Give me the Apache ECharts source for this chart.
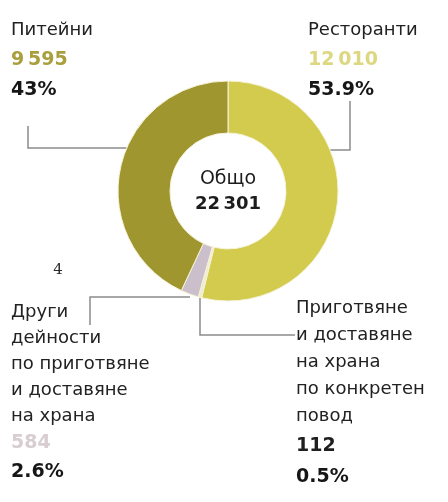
<!DOCTYPE html>
<html>
<head>
<meta charset="utf-8">
<script src="https://cdn.jsdelivr.net/npm/echarts@6/dist/echarts.min.js"></script>
<style>
  html, body { margin: 0; padding: 0; background: #ffffff; }
  #chart { width: 448px; height: 502px; }
</style>
</head>
<body>
<div id="chart"></div>
<script>
// Food service activities: number of units and share of total
const categories = [
  'Ресторанти',
  'Приготвяне\nи доставяне\nна храна\nпо конкретен\nповод',
  'Други\nдейности\nпо приготвяне\nи доставяне\nна храна',
  'Питейни'
];
const values = [12010, 112, 584, 9595];
const shareLabels = ['53.9%', '0.5%', '2.6%', '43%'];
const sliceColors = ['#d2cb4e', '#efecd2', '#cbbfcb', '#a0962f'];
const valueColors = ['#ddd781', '#1f1f1f', '#d8cdd1', '#a99f3c'];
const centerTitle = 'Общо';

const total = values.reduce((a, b) => a + b, 0);
const fmt = v => String(v).replace(/\B(?=(\d{3})+(?!\d))/g, '\u2009');

// donut geometry
const CX = 228, CY = 191, R = 110, R_IN = 58;
const FONT = '"DejaVu Sans", "Noto Sans", sans-serif';

// point on the outer rim at a given height, on the left or right side
const rimAtY = (y, side) => [CX + side * Math.sqrt(R * R - (CY - y) * (CY - y)), y];

// label placement and leader routes, per slice
const placement = [
  { x: 308, y: 15, line: [rimAtY(150, 1), [350, 150], [350, 101]] },
  { x: 296, y: 295, line: [[200, 298], [200, 335], [295, 335]] },
  { x: 11, y: 299, line: [[190, 297], [90, 297], [90, 325]] },
  { x: 11, y: 15, line: [rimAtY(148, -1), [28, 148], [28, 126]] }
];
const nameLH = [30, 27, 26, 30];
const valLH = [30, 32, 29, 30];
const pctLH = [30, 30, 29, 30];

const data = values.map((v, i) => ({
  name: categories[i],
  value: v,
  itemStyle: { color: sliceColors[i] },
  label: {
    formatter: () => `{n|${categories[i]}}\n{v|${fmt(v)}}\n{p|${shareLabels[i]}}`,
    rich: {
      n: { fontFamily: FONT, fontSize: 18, color: '#222222', lineHeight: nameLH[i] },
      v: { fontFamily: FONT, fontSize: 19, fontWeight: 'bold', color: valueColors[i], lineHeight: valLH[i] },
      p: { fontFamily: FONT, fontSize: 19, fontWeight: 'bold', color: '#161616', lineHeight: pctLH[i] }
    }
  }
}));

const chart = echarts.init(document.getElementById('chart'), null, { renderer: 'canvas' });
chart.setOption({
  backgroundColor: '#ffffff',
  animation: false,
  series: [{
    type: 'pie',
    center: [CX, CY],
    radius: [R_IN, R],
    startAngle: 90,
    clockwise: true,
    avoidLabelOverlap: false,
    itemStyle: { borderColor: '#f6f3d8', borderWidth: 1 },
    label: { show: true, position: 'outside', align: 'left' },
    labelLine: { show: true, lineStyle: { color: '#8c8c8c', width: 1.5 } },
    labelLayout: params => {
      const p = placement[params.dataIndex];
      return { x: p.x, y: p.y, align: 'left', verticalAlign: 'top', labelLinePoints: p.line };
    },
    emphasis: { disabled: true },
    data: data
  }],
  graphic: [
    {
      type: 'text', x: CX, y: CY - 12, z: 10,
      style: { text: centerTitle, align: 'center', verticalAlign: 'middle', fill: '#1c1c1c',
               font: '19px ' + FONT }
    },
    {
      type: 'text', x: CX, y: CY + 13, z: 10,
      style: { text: fmt(total), align: 'center', verticalAlign: 'middle', fill: '#1c1c1c',
               font: 'bold 18px ' + FONT }
    },
    {
      type: 'text', x: 58, y: 270,
      style: { text: '4', align: 'center', verticalAlign: 'middle', fill: '#2a2a2a',
               font: '15px "DejaVu Serif", "Liberation Serif", serif' }
    }
  ]
});
</script>
</body>
</html>
